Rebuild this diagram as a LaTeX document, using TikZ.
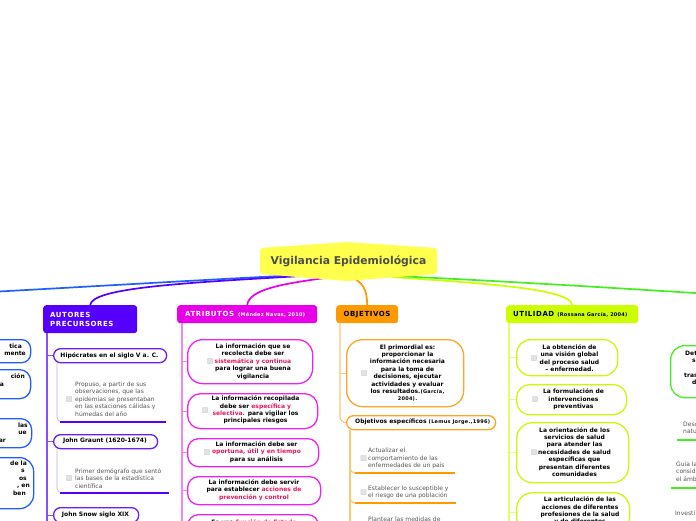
\documentclass[tikz,border=0pt]{standalone}
\usepackage{fontspec}
\setmainfont{DejaVu Sans}
\definecolor{cBlue}{HTML}{1F5FFF}
\definecolor{cPur}{HTML}{5500FF}
\definecolor{cPurB}{HTML}{6A1BFF}
\definecolor{cPurL}{HTML}{8A4DFF}
\definecolor{cPurS}{HTML}{C2A6FF}
\definecolor{cMag}{HTML}{E800E8}
\definecolor{cMagB}{HTML}{EE22EE}
\definecolor{cMagL}{HTML}{F285F2}
\definecolor{cOra}{HTML}{FF9900}
\definecolor{cOraB}{HTML}{FFA526}
\definecolor{cOraL}{HTML}{FFC873}
\definecolor{cYg}{HTML}{CCFF00}
\definecolor{cYgB}{HTML}{D2F50A}
\definecolor{cYgL}{HTML}{E2FF6E}
\definecolor{cGrn}{HTML}{44EE22}
\definecolor{cCen}{HTML}{FFFF4D}
\definecolor{cCenT}{HTML}{4D4D4D}
\definecolor{cRed}{HTML}{E8175D}
\definecolor{cGray}{HTML}{555555}
\definecolor{cChk}{HTML}{E2E2E2}
\definecolor{cChkB}{HTML}{D0D0D0}
\newcommand\rd[1]{\textcolor{cRed}{#1}}
\newcommand\citf{\fontsize{5}{6}\selectfont\addfontfeature{LetterSpace=5}}
\newcommand\gap[1]{\rule{#1}{0pt}}
\begin{document}
\begin{tikzpicture}[x=1pt,y=-1pt,
  hdr/.style={anchor=north west, inner sep=0, rounded corners=3pt},
  cbox/.style={anchor=north west, inner sep=0, draw, fill=white, line width=1.3pt},
  btxt/.style={font=\fontsize{6}{7.4}\selectfont\bfseries, text=black, align=center, inner sep=0},
  gtxt/.style={font=\fontsize{6}{7.5}\selectfont, text=cGray, align=left, inner sep=0, anchor=west},
  htxt/.style={font=\fontsize{7}{9}\selectfont\bfseries\addfontfeature{LetterSpace=8}, inner sep=0},
  chk/.style={draw=cChkB, fill=cChk, minimum size=5.5pt, inner sep=0, rounded corners=1pt, line width=0.4pt},
  cline/.style={line width=1.7pt},
  vline/.style={line width=1.2pt},
  subl/.style={line width=0.7pt, rounded corners=5pt},
  uline/.style={line width=2.6pt},
]
\useasboundingbox (0,0) rectangle (696,520);
\clip (0,0) rectangle (696,520);
\fill[white] (0,0) rectangle (696,520);

% ---------- headers ----------
\node[hdr, fill=cPur, minimum width=94pt, minimum height=28pt] (aut) at (43,305) {};
\node[htxt, text=white, anchor=west, align=left] (autT) at (50,319.5) {AUTORES\\PRECURSORES};
\node[hdr, fill=cMag, minimum width=140pt, minimum height=18pt] (atr) at (177,305) {};
\node[htxt, text=white, anchor=west] (atrT) at (185,314.5) {ATRIBUTOS\hspace{4pt}{\citf (Méndez Navas, 2010)}};
\node[hdr, fill=cOra, minimum width=62pt, minimum height=18pt] (obj) at (336,305) {};
\node[htxt, text=black] (objT) at (367,314.5) {OBJETIVOS};
\node[hdr, fill=cYg, minimum width=132pt, minimum height=18pt] (uti) at (506,305) {};
\node[htxt, text=black, anchor=west] (utiT) at (513,314.5) {UTILIDAD\hspace{3pt}{\citf (Rossana García, 2004)}};

% ---------- central connectors ----------
\coordinate (cB) at (300,275);
\coordinate (cP) at (302,276);
\coordinate (cM) at (325,278);
\coordinate (cO) at (355,279);
\coordinate (cY) at (392,277);
\coordinate (cG) at (395,276);
\coordinate (offL) at (-10,292);
\coordinate (offR) at (710,294);
\draw[cline, cBlue] (cB) .. controls (200,280) and (100,286) .. (offL);
\draw[cline, cPur] (cP) .. controls (180,283) and (92,288) .. (aut.north);
\draw[cline, cMag] (cM) .. controls (280,284) and (249,290) .. (atr.north);
\draw[cline, cOra] (cO) .. controls (365,285) and (367,293) .. (obj.north);
\draw[cline, cYg] (cY) .. controls (475,283) and (571,288) .. (uti.north);
\draw[cline, cGrn] (cG) .. controls (500,281) and (600,287) .. (offR);

% ---------- central node ----------
\fill[cCen, rounded corners=3pt] (260,248) -- (347,242) -- (437,248) -- (437,274) -- (347,281) -- (260,274) -- cycle;
\node[font=\fontsize{10.8}{12}\selectfont\bfseries, text=cCenT, inner sep=0] (vig) at (348.5,261) {Vigilancia Epidemiológica};

% ---------- left clipped blue nodes ----------
\node[cbox, draw=cBlue, rounded corners=9pt, minimum width=60pt, minimum height=23pt] (b1) at (-30,339) {};
\node[btxt, align=right, anchor=east] (b1T) at (26,350) {tica\gap{4pt}\\mente};
\node[cbox, draw=cBlue, rounded corners=11pt, minimum width=60pt, minimum height=29pt] (b2) at (-30,369) {};
\node[btxt, align=right, anchor=east] (b2T) at (25,380) {ción\\a\gap{21pt}};
\node[cbox, draw=cBlue, rounded corners=11pt, minimum width=61pt, minimum height=29pt] (b3) at (-30,418) {};
\node[btxt, align=right, anchor=east] (b3T) at (28,432.5) {las\\ue\gap{1pt}\\ar\gap{22pt}};
\node[cbox, draw=cBlue, rounded corners=14pt, minimum width=63pt, minimum height=51pt] (b4) at (-30,457) {};
\node[btxt, align=right, anchor=east] (b4T) at (30,478) {de la\gap{3pt}\\s\gap{5pt}\\os\gap{3pt}\\, en\\ben\gap{4pt}};

% ---------- AUTORES branch ----------
\draw[vline, cPurL] ([xshift=4pt]aut.south west) -- ++(0,220);
\node[cbox, draw=cPurB, rounded corners=7pt, minimum width=113pt, minimum height=14pt] (hip) at (53,348) {};
\node[btxt] (hipT) at (109.5,355.5) {Hipócrates en el siglo V a. C.};
\node[cbox, draw=cPurB, rounded corners=7pt, minimum width=104pt, minimum height=14pt] (gra) at (53,434) {};
\node[btxt] (graT) at (105,441) {John Graunt (1620-1674)};
\node[cbox, draw=cPurB, rounded corners=7pt, minimum width=85pt, minimum height=15pt] (sno) at (53,507) {};
\node[btxt] (snoT) at (95.5,514.5) {John Snow siglo XIX};
\foreach \n in {hip,gra,sno} \draw[vline, cPurL] ([xshift=-6pt]\n.west) -- (\n.west);

\coordinate (hipU1) at (60,422); \coordinate (hipU2) at (166,422);
\draw[subl, cPurS] ([xshift=4pt]hip.south west) |- ([xshift=2pt]hipU1);
\draw[uline, cPur] (hipU1) -- (hipU2);
\node[chk] (hipC) at (69,399) {};
\node[gtxt] (hipS) at (75,399) {Propuso, a partir de sus\\observaciones, que las\\epidemias se presentaban\\en las estaciones cálidas y\\húmedas del año};

\coordinate (graU1) at (60,493); \coordinate (graU2) at (169,493);
\draw[subl, cPurS] ([xshift=4pt]gra.south west) |- ([xshift=2pt]graU1);
\draw[uline, cPur] (graU1) -- (graU2);
\node[chk] (graC) at (69,478) {};
\node[gtxt] (graS) at (75,478.5) {Primer demógrafo que sentó\\las bases de la estadística\\científica};

% ---------- ATRIBUTOS branch ----------
\draw[vline, cMagL] ([xshift=5pt]atr.south west) -- ++(0,210);
\node[cbox, draw=cMagB, rounded corners=15pt, minimum width=125pt, minimum height=44pt] (a1) at (187,339) {};
\node[btxt] (a1T) at (253,361.5) {La información que se\\recolecta debe ser\\\rd{sistemática y continua}\\para lograr una buena\\vigilancia};
\node[chk] (a1C) at (210,361) {};
\node[cbox, draw=cMagB, rounded corners=13pt, minimum width=130pt, minimum height=35pt] (a2) at (187,393) {};
\node[btxt] (a2T) at (255.5,410) {La información recopilada\\debe ser \rd{específica y}\\\rd{selectiva.} para vigilar los\\principales riesgos};
\node[chk] (a2C) at (205,410) {};
\node[cbox, draw=cMagB, rounded corners=11pt, minimum width=131pt, minimum height=28pt] (a3) at (187,438) {};
\node[btxt] (a3T) at (256.5,452) {La información debe ser\\\rd{oportuna, útil y en tiempo}\\para su análisis};
\node[chk] (a3C) at (207,452) {};
\node[cbox, draw=cMagB, rounded corners=11pt, minimum width=133pt, minimum height=28pt] (a4) at (187,476) {};
\node[btxt] (a4T) at (254,490) {La información debe servir\\para establecer \rd{acciones de}\\\rd{prevención y control}};
\node[cbox, draw=cMagB, rounded corners=11pt, minimum width=131pt, minimum height=30pt] (a5) at (187,514) {};
\node[btxt] (a5T) at (254,522.5) {Es una \rd{función de Estado}};
\foreach \n in {a1,a2,a3,a4,a5} \draw[vline, cMagL] ([xshift=-5pt]\n.west) -- (\n.west);

% ---------- OBJETIVOS branch ----------
\node[cbox, draw=cOraB, rounded corners=16pt, minimum width=117pt, minimum height=67pt] (o1) at (346,339) {};
\node[btxt] (o1T) at (407.5,373) {El primordial es:\\proporcionar la\\información necesaria\\para la toma de\\decisiones, ejecutar\\actividades y evaluar\\los resultados.{\citf(García,}\\{\citf 2004).}};
\node[chk] (o1C) at (364,373) {};
\node[cbox, draw=cOraB, rounded corners=7pt, minimum width=149pt, minimum height=14pt] (esp) at (346,415) {};
\node[btxt, anchor=west] (espT) at (355,422) {Objetivos específicos {\citf (Lemus Jorge.,1996)}};
\draw[vline, cOraL, rounded corners=6pt] ([xshift=4pt]obj.south west) |- (esp.west);
\draw[vline, cOraL] ([xshift=-6pt]o1.west) -- (o1.west);

\coordinate (s1U1) at (355,473); \coordinate (s1U2) at (455,473);
\coordinate (s2U1) at (355,503); \coordinate (s2U2) at (456,503);
\draw[vline, cOraL] ([xshift=4pt]esp.south west) -- ++(0,100);
\draw[vline, cOraL, rounded corners=5pt] ([xshift=4pt]esp.south west) |- (s1U1);
\draw[vline, cOraL, rounded corners=5pt] ([xshift=4pt]esp.south west) |- (s2U1);
\draw[uline, cOra] (s1U1) -- (s1U2);
\draw[uline, cOra] (s2U1) -- (s2U2);
\node[chk] (s1C) at (363.5,458) {};
\node[gtxt] (s1T) at (368,458.5) {Actualizar el\\comportamiento de las\\enfermedades de un país};
\node[chk] (s2C) at (363.5,492) {};
\node[gtxt] (s2T) at (368,492.5) {Establecer lo susceptible y\\el riesgo de una población};
\node[gtxt] (s3T) at (368,519.5) {Plantear las medidas de};

% ---------- UTILIDAD branch ----------
\draw[vline, cYgL] ([xshift=3pt]uti.south west) -- ++(0,210);
\node[cbox, draw=cYgB, rounded corners=14pt, minimum width=101pt, minimum height=36pt] (u1) at (516,339) {};
\node[btxt] (u1T) at (569.5,358) {La obtención de\\una visión global\\del proceso salud\\– enfermedad.};
\node[chk] (u1C) at (534,358) {};
\node[cbox, draw=cYgB, rounded corners=13pt, minimum width=110pt, minimum height=30pt] (u2) at (516,384) {};
\node[btxt] (u2T) at (573.5,399.5) {La formulación de\\intervenciones\\preventivas};
\node[chk] (u2C) at (535,399) {};
\node[cbox, draw=cYgB, rounded corners=16pt, minimum width=112pt, minimum height=60pt] (u3) at (516,422) {};
\node[btxt] (u3T) at (574.5,452) {La orientación de los\\servicios de salud\\para atender las\\necesidades de salud\\específicas que\\presentan diferentes\\comunidades};
\node[chk] (u3C) at (534,452) {};
\node[cbox, draw=cYgB, rounded corners=16pt, minimum width=113pt, minimum height=40pt] (u4) at (516,492) {};
\node[btxt] (u4T) at (580,511) {La articulación de las\\acciones de diferentes\\profesiones de la salud\\y de diferentes};
\foreach \n in {u1,u2,u3,u4} \draw[vline, cYgL] ([xshift=-7pt]\n.west) -- (\n.west);

% ---------- right clipped green nodes ----------
\node[cbox, draw=cGrn, rounded corners=14pt, minimum width=60pt, minimum height=52pt] (g1) at (670,345) {};
\node[btxt, align=left, anchor=west] (g1T) at (684,368) {\gap{1pt}Det\\\gap{8pt}s\\\mbox{}\\tras\\\gap{8pt}d};
\coordinate (g2U1) at (677,440); \coordinate (g2U2) at (700,440);
\draw[uline, cGrn] (g2U1) -- (g2U2);
\node[gtxt] (g2T) at (683,428) {Desc\\natu};
\coordinate (g3U1) at (671,488); \coordinate (g3U2) at (700,488);
\draw[uline, cGrn] (g3U1) -- (g3U2);
\node[gtxt] (g3T) at (676,471.5) {Guía la\\consid\\el ámb};
\node[gtxt] (g4T) at (675,513) {Investi};
\end{tikzpicture}
\end{document}
